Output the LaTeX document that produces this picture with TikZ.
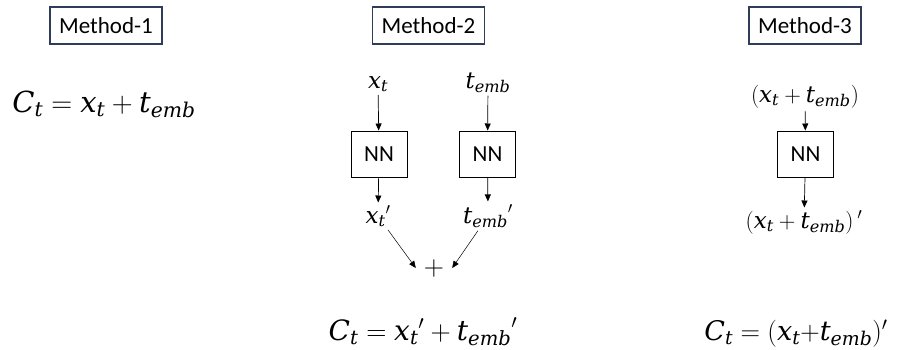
\documentclass[tikz,border=0pt]{standalone}
\usepackage{fix-cm}
\usepackage{fontspec}
\setmainfont{Carlito}
\newfontfamily\mathletters{DejaVu Serif}[NFSSFamily=dvsmath]
\DeclareSymbolFont{letters}{TU}{dvsmath}{m}{it}
\DeclareSymbolFont{operators}{TU}{dvsmath}{m}{n}
\usetikzlibrary{arrows.meta}
\definecolor{boxblue}{HTML}{2F3D5A}
\tikzset{
  methodbox/.style={draw=boxblue,line width=1.2pt,minimum width=112pt,minimum height=37pt,font=\fontsize{23}{26}\selectfont},
  nnbox/.style={draw,line width=1pt,minimum width=56pt,minimum height=46pt,font=\fontsize{23}{26}\selectfont},
  lbl/.style={font=\fontsize{23}{27}\selectfont,inner sep=3pt},
  eqn/.style={font=\fontsize{28}{32}\selectfont,inner sep=0pt},
  arr/.style={-{Triangle[length=7pt,width=6pt]},line width=0.7pt}
}
\begin{document}
\begin{tikzpicture}[x=1pt,y=-1pt]
\useasboundingbox (0,0) rectangle (901,349);
% headings
\node[methodbox] (m1) at (106,25.5) {Method-1};
\node[methodbox] (m2) at (428.5,25.5) {Method-2};
\node[methodbox] (m3) at (805,25.5) {Method-3};
% method 1
\node[eqn,font=\fontsize{29}{33}\selectfont,anchor=base] (eq1) at (104,112) {$C_t = x_t + t_{emb}$};
% method 2
\node[lbl,anchor=base] (xt) at (378,88) {$x_t$};
\node[lbl,anchor=base] (te) at (488,88) {$t_{emb}$};
\node[nnbox] (nn1) at (379,154) {NN};
\node[nnbox] (nn2) at (487.5,154) {NN};
\node[lbl,anchor=base] (xtp) at (378,223) {${x_t}'$};
\node[lbl,anchor=base] (tep) at (488,223) {${t_{emb}}'$};
\node[lbl,font=\fontsize{28}{32}\selectfont,inner sep=0pt,minimum size=36pt] (plus) at (434,268) {$+$};
\node[eqn,anchor=base] (eq2) at (423,340) {$C_t = {x_t}' + {t_{emb}}'$};
\draw[arr] (xt) -- (nn1);
\draw[arr] (te) -- (nn2);
\draw[arr] (nn1) -- (xtp);
\draw[arr] (nn2) -- (tep);
\draw[arr,line width=0.5pt] (xtp) -- (plus.west);
\draw[arr,line width=0.5pt] (tep) -- (plus.east);
% method 3
\node[lbl,anchor=base] (sum) at (805,102) {$(x_t + t_{emb})$};
\node[nnbox] (nn3) at (805.5,154) {NN};
\node[lbl,anchor=base] (sump) at (804,228) {$(x_t + t_{emb})\,'$};
\node[eqn,font=\fontsize{27}{31}\selectfont,anchor=base] (eq3) at (796,340) {$C_t = (x_t{+}t_{emb})'$};
\draw[arr] (sum) -- (nn3);
\draw[arr] (nn3) -- (sump);
\end{tikzpicture}
\end{document}
